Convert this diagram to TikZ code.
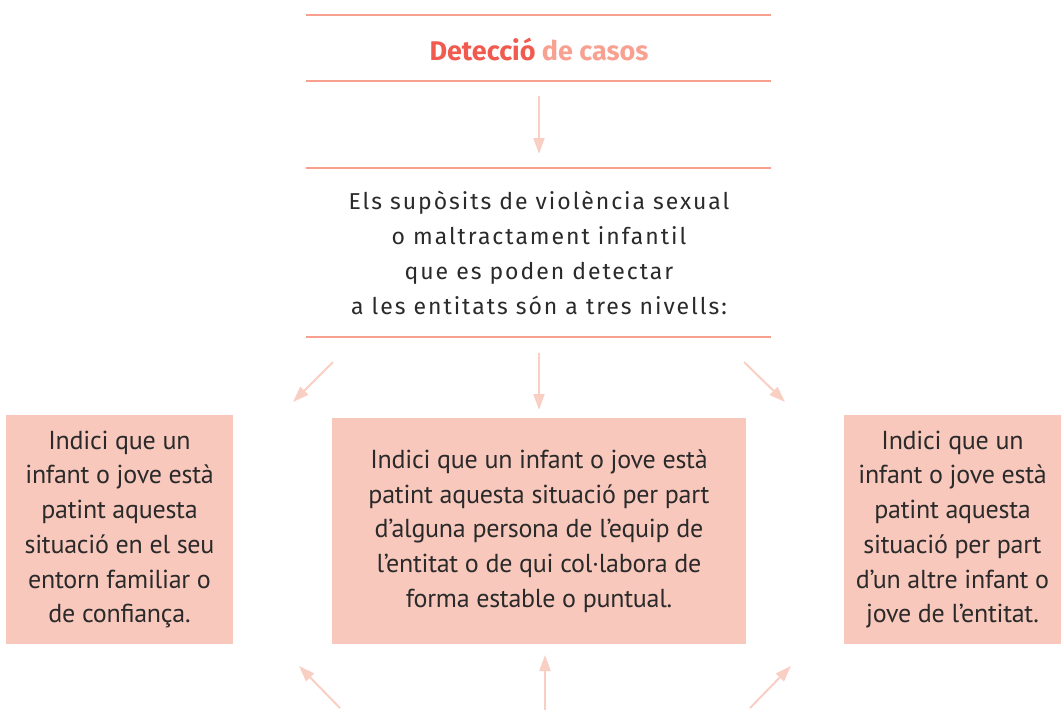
\documentclass[tikz,border=0pt]{standalone}
\usepackage{fontspec}
\setmainfont{PT Sans}
\newfontfamily\boxfont[LetterSpace=-1]{PT Sans}
\newfontfamily\leadfont[LetterSpace=8.5]{Fira Sans}
\newfontfamily\titlefont{Fira Sans}
\usetikzlibrary{arrows.meta}
\definecolor{rule}{HTML}{F7A08E}
\definecolor{titlered}{HTML}{F05A4F}
\definecolor{titlelight}{HTML}{F8A190}
\definecolor{arrowc}{HTML}{F9CFC3}
\definecolor{boxfill}{HTML}{F9C8BC}
\definecolor{ink}{HTML}{2A2A2A}
\tikzset{
  rulestyle/.style={draw=rule, line width=2.2pt},
  arrowstyle/.style={draw=arrowc, line width=2pt, -{Triangle[length=16pt,width=11pt]}},
  boxstyle/.style={fill=boxfill, inner sep=0pt, text=ink, align=center,
    font=\boxfont\fontsize{26}{34.7}\selectfont},
  leadstyle/.style={text=ink, align=center, inner sep=0pt,
    font=\leadfont\fontsize{23}{35}\selectfont},
}
\begin{document}
\begin{tikzpicture}[x=1pt,y=-1pt]
\useasboundingbox (0,0) rectangle (1061,710);
% title block
\coordinate (r1a) at (306,15); \coordinate (r1b) at (771,15);
\coordinate (r2a) at (306,81); \coordinate (r2b) at (771,81);
\draw[rulestyle] (r1a) -- (r1b);
\draw[rulestyle] (r2a) -- (r2b);
\node[inner sep=0pt, font=\titlefont\bfseries\fontsize{27}{30}\selectfont] (title) at (539,49)
  {\textcolor{titlered}{Detecció} \textcolor{titlelight}{de casos}};
% arrow 1
\coordinate (a1s) at (539,96); \coordinate (a1e) at (539,154);
\draw[arrowstyle] (a1s) -- (a1e);
% lead block
\coordinate (r3a) at (306,168); \coordinate (r3b) at (771,168);
\coordinate (r4a) at (306,337); \coordinate (r4b) at (771,337);
\draw[rulestyle] (r3a) -- (r3b);
\draw[rulestyle] (r4a) -- (r4b);
\node[leadstyle] (lead) at (539,253)
  {Els supòsits de violència sexual\\o maltractament infantil\\que es poden detectar\\a les entitats són a tres nivells:};
% arrows to boxes
\coordinate (tls) at (333,362); \coordinate (tle) at (293,402);
\coordinate (tms) at (539,353); \coordinate (tme) at (539,410);
\coordinate (trs) at (744,362); \coordinate (tre) at (785,402);
\draw[arrowstyle] (tls) -- (tle);
\draw[arrowstyle] (tms) -- (tme);
\draw[arrowstyle] (trs) -- (tre);
% boxes
\node[boxstyle, minimum width=227pt, minimum height=229pt] (left) at (119.5,529.5)
  {Indici que un\\infant o jove està\\patint aquesta\\situació en el seu\\entorn familiar o\\de confiança.};
\node[boxstyle, minimum width=414pt, minimum height=226pt] (mid) at (539,531)
  {Indici que un infant o jove està\\patint aquesta situació per part\\d’alguna persona de l’equip de\\l’entitat o de qui col·labora de\\forma estable o puntual.};
\node[boxstyle, minimum width=217pt, minimum height=229pt] (right) at (952.5,529.5)
  {Indici que un\\infant o jove està\\patint aquesta\\situació per part\\d’un altre infant o\\jove de l’entitat.};
% bottom arrows
\coordinate (bls) at (340,708); \coordinate (ble) at (299,666);
\coordinate (bms) at (545,710); \coordinate (bme) at (545,655);
\coordinate (brs) at (750,708); \coordinate (bre) at (791,666);
\draw[arrowstyle] (bls) -- (ble);
\draw[arrowstyle] (bms) -- (bme);
\draw[arrowstyle] (brs) -- (bre);
\end{tikzpicture}
\end{document}
